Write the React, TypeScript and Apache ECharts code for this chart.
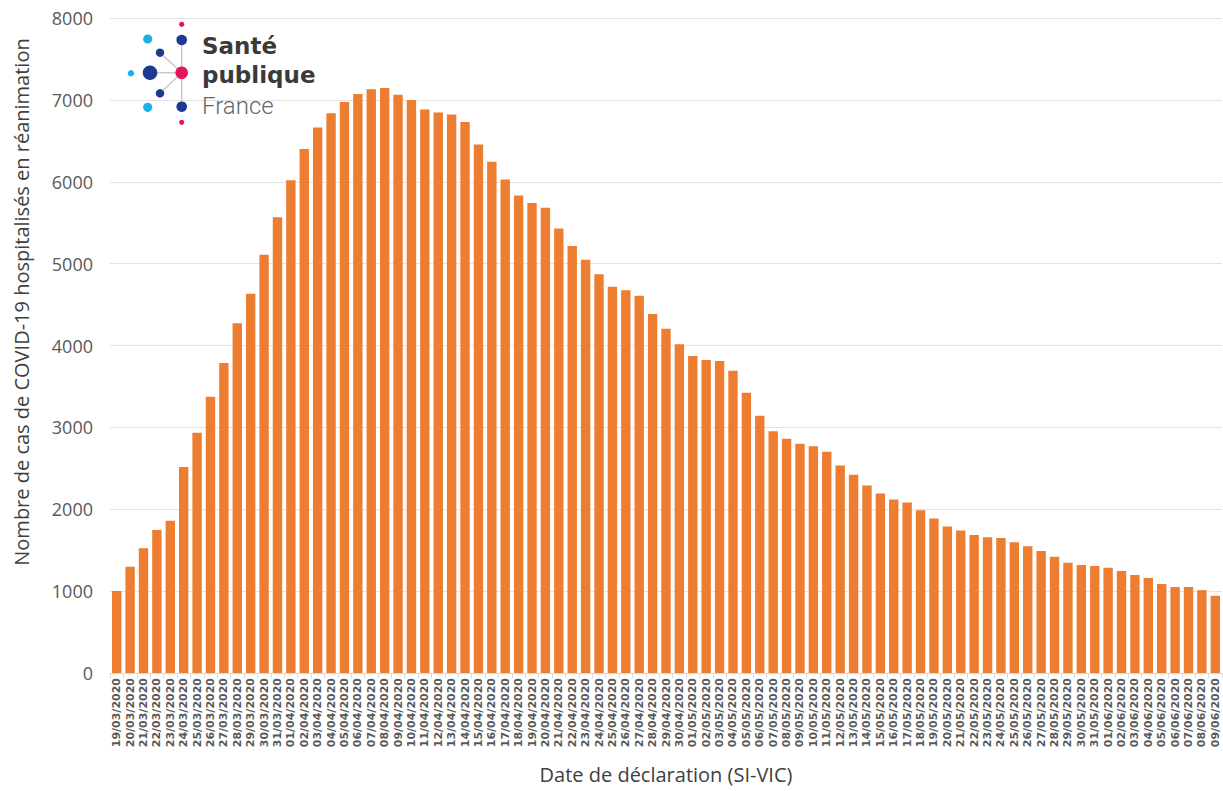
import React, { useEffect, useRef } from "react";
import * as echarts from "echarts";

const dates = [
  "19/03/2020", "20/03/2020", "21/03/2020", "22/03/2020", "23/03/2020", "24/03/2020", "25/03/2020",
  "26/03/2020", "27/03/2020", "28/03/2020", "29/03/2020", "30/03/2020", "31/03/2020",
  "01/04/2020", "02/04/2020", "03/04/2020", "04/04/2020", "05/04/2020", "06/04/2020", "07/04/2020",
  "08/04/2020", "09/04/2020", "10/04/2020", "11/04/2020", "12/04/2020", "13/04/2020", "14/04/2020",
  "15/04/2020", "16/04/2020", "17/04/2020", "18/04/2020", "19/04/2020", "20/04/2020", "21/04/2020",
  "22/04/2020", "23/04/2020", "24/04/2020", "25/04/2020", "26/04/2020", "27/04/2020", "28/04/2020",
  "29/04/2020", "30/04/2020",
  "01/05/2020", "02/05/2020", "03/05/2020", "04/05/2020", "05/05/2020", "06/05/2020", "07/05/2020",
  "08/05/2020", "09/05/2020", "10/05/2020", "11/05/2020", "12/05/2020", "13/05/2020", "14/05/2020",
  "15/05/2020", "16/05/2020", "17/05/2020", "18/05/2020", "19/05/2020", "20/05/2020", "21/05/2020",
  "22/05/2020", "23/05/2020", "24/05/2020", "25/05/2020", "26/05/2020", "27/05/2020", "28/05/2020",
  "29/05/2020", "30/05/2020", "31/05/2020",
  "01/06/2020", "02/06/2020", "03/06/2020", "04/06/2020", "05/06/2020", "06/06/2020", "07/06/2020",
  "08/06/2020", "09/06/2020",
];

const icuCases = [
  1002, 1297, 1525, 1746, 1861, 2516, 2935, 3375, 3787, 4273, 4632, 5107, 5565,
  6017, 6399, 6662, 6838, 6975, 7072, 7131, 7145, 7062, 7000, 6883, 6845, 6821, 6730,
  6454, 6245, 6027, 5832, 5741, 5683, 5429, 5215, 5048, 4871, 4717, 4676, 4608, 4385,
  4204, 4014,
  3873, 3823, 3810, 3692, 3424, 3143, 2952, 2862, 2800, 2768, 2703, 2535, 2420, 2290,
  2192, 2118, 2082, 1988, 1886, 1788, 1739, 1686, 1657, 1649, 1596, 1547, 1490, 1420,
  1347, 1318, 1306,
  1286, 1245, 1196, 1159, 1086, 1049, 1049, 1012, 943,
];

const yTicks = { min: 0, max: 8000, interval: 1000 };

const yTitle = "Nombre de cas de COVID-19 hospitalisés en réanimation";
const xTitle = "Date de déclaration (SI-VIC)";

const DARK = "#1d3a8f";
const LIGHT = "#1bb1e7";
const PINK = "#e6135f";

function logo() {
  const cx = 181.7;
  const cy = 72.7;
  const lineStyle = { stroke: "#c8c8c8", lineWidth: 1.5 };
  const lines = [
    { x1: cx, y1: 40, x2: cx, y2: 106.7 },
    { x1: cx, y1: cy, x2: 160, y2: 52.7 },
    { x1: cx, y1: cy, x2: 150, y2: 72.7 },
    { x1: cx, y1: cy, x2: 160, y2: 93.3 },
  ].map((s) => ({ type: "line", shape: s, style: lineStyle, z: 10 }));
  const dots = [
    [181.7, 24.3, 2.6, PINK],
    [181.7, 40, 5.3, DARK],
    [147.7, 39, 4.6, LIGHT],
    [160, 52.7, 4.2, DARK],
    [131, 73.3, 3.2, LIGHT],
    [150, 72.7, 7.3, DARK],
    [181.7, 72.7, 6.3, PINK],
    [160, 93.3, 4.2, DARK],
    [147.7, 107.3, 4.6, LIGHT],
    [181.7, 106.7, 5.3, DARK],
    [181.7, 122.3, 2.6, PINK],
  ].map(([x, y, r, c]) => ({
    type: "circle",
    shape: { cx: x, cy: y, r },
    style: { fill: c },
    z: 11,
  }));
  const words = [
    { text: "Santé", y: 45.5, font: "bold 23px 'DejaVu Sans'", color: "#3a3a3a" },
    { text: "publique", y: 75, font: "bold 23px 'DejaVu Sans'", color: "#3a3a3a" },
    { text: "France", y: 106, font: "300 24px Roboto", color: "#666666" },
  ].map((w) => ({
    type: "text",
    x: 202,
    y: w.y,
    z: 11,
    style: {
      text: w.text,
      fill: w.color,
      font: w.font,
      textVerticalAlign: "middle",
      textAlign: "left",
    },
  }));
  return [
    ...lines,
    ...dots,
    ...words,
    {
      type: "text",
      x: 21,
      y: 302,
      rotation: Math.PI / 2,
      style: {
        text: yTitle,
        fill: "#404040",
        font: "20px 'Open Sans'",
        textAlign: "center",
        textVerticalAlign: "middle",
      },
    },
  ];
}

export default function App() {
  const ref = useRef<HTMLDivElement>(null);
  useEffect(() => {
    if (!ref.current) return;
    const chart = echarts.init(ref.current, undefined, { renderer: "svg" });
    chart.setOption({
      animation: false,
      backgroundColor: "#ffffff",
      grid: { left: 110, right: 1, top: 18, bottom: 118, containLabel: false },
      xAxis: {
        type: "category",
        data: dates,
        name: xTitle,
        nameLocation: "middle",
        nameGap: 91,
        nameTextStyle: { fontFamily: "Open Sans", fontSize: 20, color: "#404040" },
        axisLine: { show: true, lineStyle: { color: "#d9d9d9" } },
        axisTick: { show: true, alignWithLabel: false, length: 5, lineStyle: { color: "#d9d9d9" } },
        axisLabel: {
          interval: 0,
          rotate: 90,
          margin: 5,
          fontFamily: "DejaVu Sans",
          fontWeight: "bold",
          fontSize: 11,
          color: "#595959",
        },
      },
      yAxis: {
        type: "value",
        ...yTicks,
        axisLine: { show: false },
        axisTick: { show: false },
        splitLine: { show: true, lineStyle: { color: "#e3e3e3", width: 1 } },
        axisLabel: {
          margin: 17,
          fontFamily: "Open Sans",
          fontSize: 18,
          color: "#595959",
          formatter: (v: number) => String(v),
        },
      },
      series: [
        {
          type: "bar",
          data: icuCases,
          barCategoryGap: "30%",
          itemStyle: { color: "#ed7d31" },
        },
      ],
      graphic: logo(),
    });
    return () => chart.dispose();
  }, []);
  return (
    <div
      ref={ref}
      style={{ position: "absolute", left: 0, top: 0, width: 1223, height: 791, background: "#fff" }}
    />
  );
}
